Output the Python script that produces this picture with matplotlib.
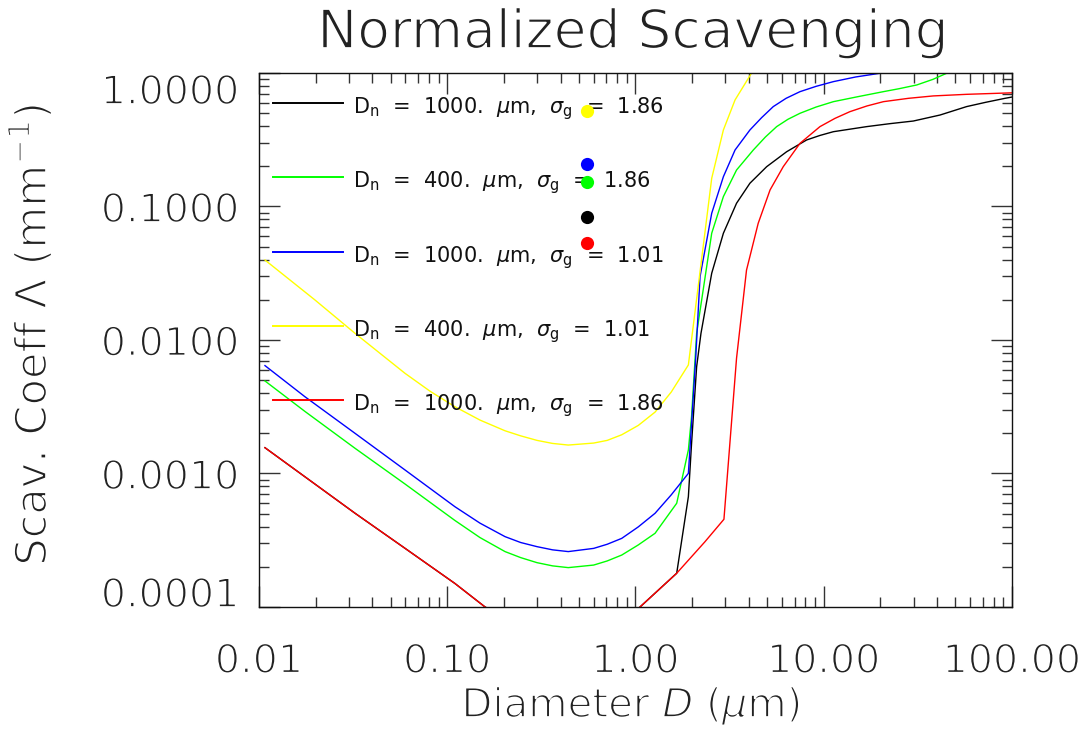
import matplotlib
matplotlib.use("Agg")
import matplotlib.pyplot as plt
import matplotlib.patheffects as pe
from matplotlib.ticker import FixedLocator, LogLocator, NullFormatter

# series (diameter in um, scavenging coeff in mm^-1)
black_x = [0.01076, 0.03236, 0.0597, 0.1099, 0.1589, 0.2512, 0.4395, 0.7943, 1.057, 1.656,
           1.910, 1.986, 2.113, 2.228, 2.541, 2.931, 3.443, 4.055, 4.977, 6.353, 8.110, 9.550,
           11.25, 16.90, 22.39, 29.92, 41.50, 57.41, 72.44, 91.83, 100]
black_y = [0.00156, 0.000504, 0.000275, 0.000150, 0.0001, 7.1e-5, 5.6e-5, 7.1e-5, 0.0001,
           0.000179, 0.00067, 0.00168, 0.0063, 0.0112, 0.0316, 0.0630, 0.1057, 0.1493, 0.1986,
           0.2570, 0.3148, 0.3404, 0.3631, 0.3963, 0.4169, 0.4365, 0.4842, 0.5598, 0.6026,
           0.6457, 0.66]

green_x = [0.01076, 0.01754, 0.03236, 0.0597, 0.1099, 0.1493, 0.2028, 0.2455, 0.2999, 0.3631,
           0.4395, 0.5998, 0.7079, 0.8453, 1.035, 1.271, 1.656, 1.910, 1.986, 2.113, 2.541,
           2.931, 3.443, 4.227, 4.898, 5.623, 6.457, 7.482, 9.120, 11.25, 15.14, 20.75, 25.12,
           31.19, 38.02, 45.0, 60]
green_y = [0.004932, 0.002917, 0.001545, 0.0008337, 0.0004446, 0.0003311, 0.0002600, 0.0002344,
           0.0002148, 0.0002032, 0.0001972, 0.0002061, 0.0002213, 0.0002449, 0.0002917,
           0.0003565, 0.0005984, 0.0015, 0.00267, 0.0112, 0.0630, 0.1186, 0.1875, 0.2649,
           0.3311, 0.3963, 0.4498, 0.4989, 0.5559, 0.6095, 0.6637, 0.7244, 0.7621, 0.8128,
           0.8954, 0.995, 1.15]

blue_x = [0.01076, 0.01754, 0.03236, 0.0597, 0.1099, 0.1493, 0.2028, 0.2455, 0.2999, 0.3631,
          0.4395, 0.5998, 0.7079, 0.8453, 1.035, 1.271, 1.549, 1.910, 2.089, 2.203, 2.541,
          2.931, 3.381, 4.055, 4.677, 5.395, 6.310, 7.482, 9.120, 11.25, 14.79, 19.91, 30]
blue_y = [0.006427, 0.003758, 0.002000, 0.001062, 0.0005636, 0.0004246, 0.0003365, 0.0003041,
          0.0002831, 0.0002679, 0.0002600, 0.0002748, 0.0002951, 0.0003266, 0.0003981,
          0.0005035, 0.0006918, 0.001002, 0.0073, 0.0298, 0.0889, 0.1671, 0.2649, 0.3741,
          0.4624, 0.5598, 0.6457, 0.7244, 0.7943, 0.8610, 0.9333, 0.995, 1.1]

yellow_x = [0.01076, 0.01459, 0.01982, 0.03236, 0.04395, 0.0597, 0.08128, 0.1099, 0.1493,
            0.2028, 0.2455, 0.2999, 0.3631, 0.4395, 0.5998, 0.7079, 0.8453, 1.035, 1.271,
            1.549, 1.910, 2.541, 2.931, 3.381, 4.140, 5.012]
yellow_y = [0.03972, 0.02818, 0.01995, 0.01122, 0.007943, 0.005623, 0.004121, 0.003162,
            0.002512, 0.002089, 0.001914, 0.001770, 0.001679, 0.001633, 0.001690, 0.001770,
            0.001950, 0.002291, 0.002884, 0.004074, 0.006501, 0.1626, 0.3741, 0.6281, 1.0,
            1.479]

red_x = [0.01076, 0.03236, 0.0597, 0.1099, 0.1589, 0.2512, 0.4395, 0.7943, 1.057, 1.656, 2.339,
         2.951, 3.443, 3.890, 4.487, 5.188, 6.095, 7.482, 9.550, 11.48, 13.77, 16.98, 20.75,
         28.18, 38.19, 57.41, 100]
red_y = [0.00156, 0.000504, 0.000275, 0.000150, 0.0001, 7.1e-5, 5.6e-5, 7.1e-5, 0.0001,
         0.000179, 0.000308, 0.000454, 0.0073, 0.0334, 0.0748, 0.1330, 0.1986, 0.2972, 0.3963,
         0.4571, 0.5129, 0.5662, 0.6095, 0.6457, 0.6730, 0.6918, 0.71]

# single markers at D = 0.552 um
dot_x = 0.552
dot_y = [0.519, 0.208, 0.153, 0.0834, 0.0533]
dot_colors = ["#ffff00", "#0000ff", "#00ff00", "#000000", "#ff0000"]

legend_labels = [
    r"D$_\mathrm{n}$  =  1000.  $\mu$m,  $\sigma_\mathrm{g}$  =  1.86",
    r"D$_\mathrm{n}$  =  400.  $\mu$m,  $\sigma_\mathrm{g}$  =  1.86",
    r"D$_\mathrm{n}$  =  1000.  $\mu$m,  $\sigma_\mathrm{g}$  =  1.01",
    r"D$_\mathrm{n}$  =  400.  $\mu$m,  $\sigma_\mathrm{g}$  =  1.01",
    r"D$_\mathrm{n}$  =  1000.  $\mu$m,  $\sigma_\mathrm{g}$  =  1.86",
]
legend_colors = ["#000000", "#00ff00", "#0000ff", "#ffff00", "#ff0000"]

x_ticks = [0.01, 0.1, 1, 10, 100]
x_ticklabels = ["0.01", "0.10", "1.00", "10.00", "100.00"]
y_ticks = [1e-4, 1e-3, 1e-2, 1e-1, 1]
y_ticklabels = ["0.0001", "0.0010", "0.0100", "0.1000", "1.0000"]

# IDL vector font is thin: erode the glyphs with a white edge
TXT = "#222222"
thin = [pe.Stroke(linewidth=1.25, foreground="white")]

plt.rcParams["font.family"] = ["DejaVu Sans"]
plt.rcParams["mathtext.fontset"] = "dejavusans"

fig = plt.figure(figsize=(10.9, 7.37), dpi=100)
ax = fig.add_axes([0.2376, 0.1764, 0.6908, 0.7246])

lw = 1.0
ax.plot(black_x, black_y, color="#000000", lw=lw)
ax.plot(green_x, green_y, color="#00ff00", lw=lw)
ax.plot(blue_x, blue_y, color="#0000ff", lw=lw)
ax.plot(yellow_x, yellow_y, color="#ffff00", lw=lw)
ax.plot(red_x, red_y, color="#ff0000", lw=lw)

for yv, c in zip(dot_y, dot_colors):
    ax.plot([dot_x], [yv], "o", color=c, ms=9.5, mec="none", zorder=5)

ax.set_xscale("log")
ax.set_yscale("log")
ax.set_xlim(0.01, 100)
ax.set_ylim(1e-4, 1)

ax.xaxis.set_major_locator(FixedLocator(x_ticks))
ax.set_xticklabels(x_ticklabels)
ax.yaxis.set_major_locator(FixedLocator(y_ticks))
ax.set_yticklabels(y_ticklabels)
ax.xaxis.set_minor_locator(LogLocator(base=10, subs=range(2, 10)))
ax.yaxis.set_minor_locator(LogLocator(base=10, subs=range(2, 10)))
ax.xaxis.set_minor_formatter(NullFormatter())
ax.yaxis.set_minor_formatter(NullFormatter())

ax.tick_params(which="both", direction="in", top=True, right=True, color="#333333", width=1.0)
ax.tick_params(which="major", length=15)
ax.tick_params(which="minor", length=7.5)
ax.tick_params(axis="x", which="major", pad=25, labelsize=28.5, labelcolor=TXT)
ax.tick_params(axis="y", which="major", pad=14, labelsize=28.5, labelcolor=TXT)
for sp in ax.spines.values():
    sp.set_linewidth(1.0)
    sp.set_color("#111111")

for t in ax.get_xticklabels() + ax.get_yticklabels():
    t.set_path_effects(thin)

# IDL puts the end labels inside the axis range
ylabs = ax.get_yticklabels()
ylabs[0].set_verticalalignment("baseline")
ylabs[-1].set_verticalalignment("top")

# legend drawn by hand, as in the IDL plot
rows = [0.9438, 0.8052, 0.6648, 0.5262, 0.3876]
for yr, lab, c in zip(rows, legend_labels, legend_colors):
    ax.plot([0.0186, 0.1116], [yr, yr], color=c, lw=1.4, transform=ax.transAxes, clip_on=False)
    ax.text(0.1248, yr - 0.0193, lab, transform=ax.transAxes, fontsize=15,
            va="baseline", ha="left", color="#111111")

fig.text(0.5807, 1 - 48 / 737, "Normalized Scavenging", fontsize=38.5, ha="center",
         va="baseline", color=TXT, path_effects=thin)
fig.text(0.5789, 1 - 717 / 737, r"Diameter $D$ ($\mu$m)", fontsize=29, ha="center",
         va="baseline", color=TXT, path_effects=thin)
fig.text(0.029, 1 - 335 / 737, r"Scav. Coeff $\Lambda$ (mm$^{-1}$)", fontsize=31,
         rotation=90, ha="center", va="center", color=TXT, path_effects=thin)

fig.savefig("out.png", dpi=100)
